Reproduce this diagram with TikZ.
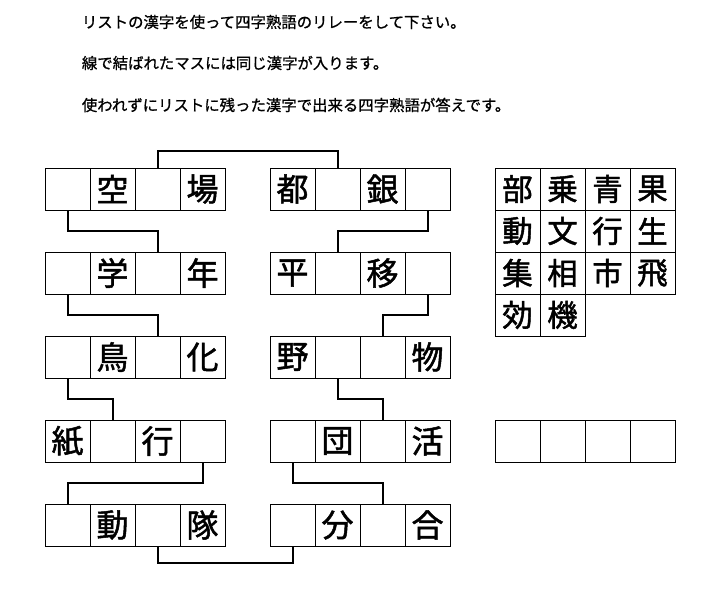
\documentclass[tikz,border=0pt]{standalone}
\usepackage{fontspec}
\newfontfamily\jp[FakeBold=1.5]{Noto Sans CJK JP}
\newfontfamily\jpt[FakeBold=0.9]{Noto Sans CJK JP}
\newcommand\lowch[1]{\lower2pt\hbox{#1}}
\tikzset{
  cell/.style={draw, line width=0.9pt, minimum width=45pt, minimum height=42pt, inner sep=0pt, font=\jp\fontsize{32}{32}\selectfont},
  lcell/.style={cell, font=\jp\fontsize{30.5}{30.5}\selectfont},
  conn/.style={line width=2pt},
  note/.style={anchor=west, inner sep=0pt, font=\jpt\fontsize{15.4}{16}\selectfont}
}
\newcommand\qrow[7]{%
  \node[cell] (#1a) at (#2,#3) {\lowch{#4}};
  \node[cell] (#1b) at (#2+45,#3) {\lowch{#5}};
  \node[cell] (#1c) at (#2+90,#3) {\lowch{#6}};
  \node[cell] (#1d) at (#2+135,#3) {\lowch{#7}};
}
\begin{document}
\begin{tikzpicture}[x=1pt,y=-1pt]
\useasboundingbox (0,0) rectangle (721,589);
\fill[white] (0,0) rectangle (721,589);
% instructions
\node[note] (t1) at (81.7,22) {リストの漢字を使って四字熟語のリレーをして下さい。};
\node[note] (t2) at (81.7,63) {線で結ばれたマスには同じ漢字が入ります。};
\node[note] (t3) at (81.7,105) {使われずにリストに残った漢字で出来る四字熟語が答えです。};
% left column
\qrow{La}{67.5}{189}{}{空}{}{場}
\qrow{Lb}{67.5}{273}{}{学}{}{年}
\qrow{Lc}{67.5}{357}{}{鳥}{}{化}
\qrow{Ld}{67.5}{441}{紙}{}{行}{}
\qrow{Le}{67.5}{525}{}{動}{}{隊}
% right column
\qrow{Ra}{292.5}{189}{都}{}{銀}{}
\qrow{Rb}{292.5}{273}{平}{}{移}{}
\qrow{Rc}{292.5}{357}{野}{}{}{物}
\qrow{Rd}{292.5}{441}{}{団}{}{活}
\qrow{Re}{292.5}{525}{}{分}{}{合}
% list of kanji
\node[lcell] (k1) at (517.5,189) {\lowch{部}};
\node[lcell] (k2) at (562.5,189) {\lowch{乗}};
\node[lcell] (k3) at (607.5,189) {\lowch{青}};
\node[lcell] (k4) at (652.5,189) {\lowch{果}};
\node[lcell] (k5) at (517.5,231) {\lowch{動}};
\node[lcell] (k6) at (562.5,231) {\lowch{文}};
\node[lcell] (k7) at (607.5,231) {\lowch{行}};
\node[lcell] (k8) at (652.5,231) {\lowch{生}};
\node[lcell] (k9) at (517.5,273) {\lowch{集}};
\node[lcell] (k10) at (562.5,273) {\lowch{相}};
\node[lcell] (k11) at (607.5,273) {\lowch{市}};
\node[lcell] (k12) at (652.5,273) {\lowch{飛}};
\node[lcell] (k13) at (517.5,315) {\lowch{効}};
\node[lcell] (k14) at (562.5,315) {\lowch{機}};
% answer boxes
\node[cell] (A1) at (517.5,441) {};
\node[cell] (A2) at (562.5,441) {};
\node[cell] (A3) at (607.5,441) {};
\node[cell] (A4) at (652.5,441) {};
% connectors
\draw[conn] (Lac.north) -- (Lac.north |- 0,151) -| (Rab.north);
\draw[conn] (Laa.south) -- (Laa.south |- 0,231) -| (Lbc.north);
\draw[conn] (Lba.south) -- (Lba.south |- 0,315) -| (Lcc.north);
\draw[conn] (Lca.south) -- (Lca.south |- 0,399) -| (Ldb.north);
\draw[conn] (Ldd.south) -- (Ldd.south |- 0,483) -| (Lea.north);
\draw[conn] (Lec.south) -- (Lec.south |- 0,563) -| (Rea.south);
\draw[conn] (Rad.south) -- (Rad.south |- 0,231) -| (Rbb.north);
\draw[conn] (Rbd.south) -- (Rbd.south |- 0,315) -| (Rcc.north);
\draw[conn] (Rcb.south) -- (Rcb.south |- 0,399) -| (Rdc.north);
\draw[conn] (Rda.south) -- (Rda.south |- 0,483) -| (Rec.north);
\end{tikzpicture}
\end{document}
